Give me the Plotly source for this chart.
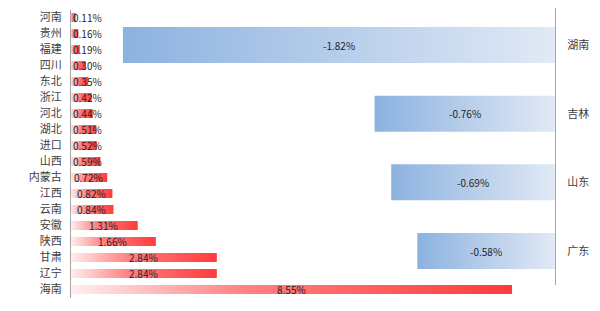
import plotly.graph_objects as go

# ---- data ----
pos_categories = ["河南", "贵州", "福建", "四川", "东北", "浙江", "河北", "湖北", "进口",
                  "山西", "内蒙古", "江西", "云南", "安徽", "陕西", "甘肃", "辽宁", "海南"]
pos_values = [0.11, 0.16, 0.19, 0.30, 0.35, 0.42, 0.44, 0.51, 0.52,
              0.59, 0.72, 0.82, 0.84, 1.31, 1.66, 2.84, 2.84, 8.55]
neg_categories = ["湖南", "吉林", "山东", "广东"]
neg_values = [-1.82, -0.76, -0.69, -0.58]

# ---- style ----
W, H = 600, 311
FONT = "Noto Sans CJK SC"
red_scale = [[0, "#fff0f0"], [0.4, "#ff8080"], [1, "#ff3b3b"]]
blue_scale = [[0, "#8cb2e0"], [1, "#e1e9f5"]]
LEFT_PX_PER = 51.7
RIGHT_PX_PER = 237.4
LEFT_ZERO = 70
RIGHT_ZERO = 555
h_left = 0.28
h_right = 0.262

fig = go.Figure()

for i, v in enumerate(pos_values):
    fig.add_trace(go.Scatter(
        x=[0, v, v, 0, 0], y=[i - h_left, i - h_left, i + h_left, i + h_left, i - h_left],
        mode="lines", line=dict(width=0), fill="toself",
        fillgradient=dict(type="horizontal", colorscale=red_scale),
        xaxis="x", yaxis="y", hoverinfo="skip", showlegend=False))

for i, v in enumerate(neg_values):
    fig.add_trace(go.Scatter(
        x=[v, 0, 0, v, v], y=[i - h_right, i - h_right, i + h_right, i + h_right, i - h_right],
        mode="lines", line=dict(width=0), fill="toself",
        fillgradient=dict(type="horizontal", colorscale=blue_scale),
        xaxis="x2", yaxis="y2", hoverinfo="skip", showlegend=False))

annotations = []
for i, v in enumerate(pos_values):
    if v * LEFT_PX_PER > 34:
        annotations.append(dict(x=v / 2, y=i, xref="x", yref="y", text=f"{v:.2f}%",
                                showarrow=False, xanchor="center",
                                font=dict(family=FONT, size=10, color="#1f1f1f")))
    else:
        annotations.append(dict(x=0, y=i, xref="x", yref="y", text=f"{v:.2f}%",
                                showarrow=False, xanchor="left", xshift=1,
                                font=dict(family=FONT, size=10, color="#1f1f1f")))
for i, v in enumerate(neg_values):
    annotations.append(dict(x=v / 2, y=i, xref="x2", yref="y2", text=f"{v:.2f}%",
                            showarrow=False, xanchor="center",
                            font=dict(family=FONT, size=10, color="#1f1f1f")))

lx0 = -LEFT_ZERO / LEFT_PX_PER
lx1 = (W - LEFT_ZERO) / LEFT_PX_PER
rx0 = -RIGHT_ZERO / RIGHT_PX_PER
rx1 = (W - RIGHT_ZERO) / RIGHT_PX_PER

fig.update_layout(
    width=W, height=H, margin=dict(l=0, r=0, t=0, b=0),
    paper_bgcolor="white", plot_bgcolor="rgba(0,0,0,0)",
    xaxis=dict(range=[lx0, lx1], visible=False, domain=[0, 1]),
    xaxis2=dict(range=[rx0, rx1], visible=False, overlaying="x", domain=[0, 1]),
    yaxis=dict(domain=[1 - 297.5 / H, 1 - 9.5 / H], range=[17.5, -0.5],
               tickvals=list(range(len(pos_categories))), ticktext=pos_categories,
               anchor="free", position=LEFT_ZERO / W, side="left",
               showline=True, linecolor="#a6a6a6", linewidth=1,
               showgrid=False, zeroline=False, ticks="", ticklabelstandoff=6,
               tickfont=dict(family=FONT, size=11, color="#404040")),
    yaxis2=dict(domain=[1 - 285 / H, 1 - 8 / H], range=[3.495, -0.539],
                tickvals=list(range(len(neg_categories))), ticktext=neg_categories,
                anchor="free", position=RIGHT_ZERO / W, side="right",
                showline=True, linecolor="#a6a6a6", linewidth=1,
                showgrid=False, zeroline=False, ticks="", ticklabelstandoff=9,
                tickfont=dict(family=FONT, size=11, color="#404040")),
    annotations=annotations,
)

fig.write_html("out.html")
